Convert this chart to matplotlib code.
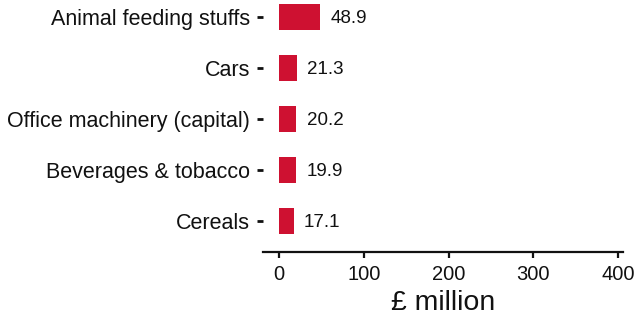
import matplotlib.pyplot as plt

plt.rcParams['font.family'] = ['Liberation Sans', 'DejaVu Sans']

categories = ['Cereals', 'Beverages & tobacco', 'Office machinery (capital)',
              'Cars', 'Animal feeding stuffs']
values = [17.1, 19.9, 20.2, 21.3, 48.9]
xticks = [0, 100, 200, 300, 400]

fig = plt.figure(figsize=(6.37, 3.17), dpi=100)
ax = fig.add_axes([263 / 637, 1 - 252 / 317, 360 / 637, 252 / 317])

ypos = range(len(categories))
ax.barh(ypos, values, height=0.52, color='#CE1131')
for y, v in zip(ypos, values):
    ax.annotate(f'{v:.1f}', (v, y), xytext=(7.5, -1), textcoords='offset points',
                va='center', ha='left', fontsize=13.5, color='#111111')

ax.set_xlim(-18.9, 405.8)
ax.set_ylim(-0.61, 4.33)
ax.set_yticks(list(ypos))
ax.set_yticklabels(categories, fontsize=15.5, color='#111111')
ax.set_xticks(xticks)
ax.set_xticklabels([str(t) for t in xticks], fontsize=14.5, color='#111111')
ax.set_xlabel('£ million', fontsize=20.5, color='#111111', labelpad=5)

for s in ['top', 'right', 'left']:
    ax.spines[s].set_visible(False)
ax.spines['bottom'].set_linewidth(1.6)
ax.spines['bottom'].set_color('#111111')
ax.tick_params(axis='x', length=4.5, width=1.6, color='#111111', pad=4.5)
ax.tick_params(axis='y', length=4.5, width=2, color='#111111', pad=5)
ax.set_facecolor('white')

fig.savefig('out.png', dpi=100)
